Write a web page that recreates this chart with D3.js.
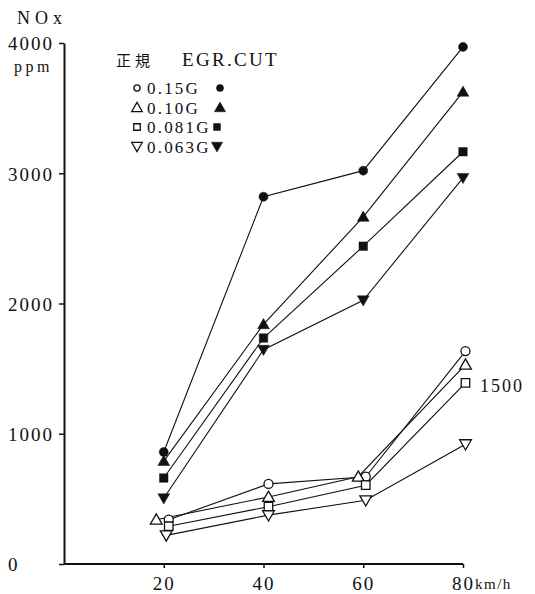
<!DOCTYPE html>
<html>
<head>
<meta charset="utf-8">
<script src="https://cdn.jsdelivr.net/npm/d3@7"></script>
<style>
  html, body { margin: 0; padding: 0; background: #fff; }
  svg { display: block; }
</style>
</head>
<body>
<svg id="chart" width="535" height="594"></svg>
<script>
// Vehicle speed (km/h)
const speeds = [20, 40, 60, 80];

// NOx (ppm) with EGR cut
const cut015  = [860, 2820, 3020, 3970];
const cut010  = [790, 1840, 2665, 3625];
const cut0081 = [660, 1735, 2440, 3165];
const cut0063 = [505, 1645, 2025, 2965];

// NOx (ppm) in normal operation, with the speeds at which the points sit
const std015  = [340, 615, 670, 1635];
const std010  = [340, 515, 670, 1530];
const std0081 = [290, 440, 605, 1390];
const std0063 = [220, 375, 490, 920];
const std015Speeds  = [21, 41, 60.5, 80.5];
const std010Speeds  = [18.5, 41, 59, 80.5];
const std0081Speeds = [21, 41, 60.5, 80.5];
const std0063Speeds = [20.5, 41, 60.5, 80.5];

// Axis ticks and legend
const yTicks = [0, 1000, 2000, 3000, 4000];
const xTicks = [20, 40, 60, 80];
const legendLabels = ["0.15G", "0.10G", "0.081G", "0.063G"];
const shapes = ["circle", "triangle", "square", "down"];

const SERIF = "'Liberation Serif', 'DejaVu Serif', serif";
const INK = "#111";

const svg = d3.select("#chart");
const x = d3.scaleLinear().domain([0, 80]).range([64, 463]);
const y = d3.scaleLinear().domain([0, 4000]).range([564, 43]);

function label(xp, yp, str, size, spacing, family) {
  return svg.append("text").attr("x", xp).attr("y", yp)
    .attr("fill", INK)
    .style("font-family", family || SERIF)
    .style("font-size", size + "px")
    .style("letter-spacing", spacing + "px")
    .text(str);
}

// Axes
const yAxis = svg.append("g")
  .attr("transform", "translate(64,0)")
  .call(d3.axisLeft(y).tickValues(yTicks).tickSize(5).tickSizeOuter(0).tickFormat(d3.format("d")));
yAxis.select(".domain").attr("stroke", INK).attr("stroke-width", 2);
yAxis.selectAll(".tick line").attr("stroke", INK).attr("stroke-width", 1.5);
yAxis.selectAll(".tick text")
  .attr("text-anchor", "start").attr("x", -56).attr("dy", "0.36em").attr("fill", INK)
  .style("font-family", SERIF).style("font-size", "19px").style("letter-spacing", "2px");

const xAxis = svg.append("g")
  .attr("transform", "translate(0,564)")
  .call(d3.axisBottom(x).tickValues(xTicks).tickSize(4).tickSizeOuter(0).tickPadding(9));
xAxis.select(".domain").attr("stroke", INK).attr("stroke-width", 2)
  .attr("d", `M${x(0)},0H${x(80)}`);
xAxis.selectAll(".tick line").attr("stroke", INK).attr("stroke-width", 1.5);
xAxis.selectAll(".tick text").attr("fill", INK)
  .style("font-family", SERIF).style("font-size", "19px").style("letter-spacing", "2px");

label(x(80) + 12, 589, "km/h", 15, 1.5);

// Axis title
label(17, 24, "NOx", 18, 5);
label(14, 72, "ppm", 16, 3.5);

// Marker shapes
function symbolPath(shape, size) {
  const type = shape === "circle" ? d3.symbolCircle
    : shape === "square" ? d3.symbolSquare : d3.symbolTriangle;
  return d3.symbol().type(type).size(size)();
}
function drawMarker(g, shape, cx, cy, filled, size) {
  const rot = shape === "down" ? 180 : 0;
  const dy = shape === "triangle" ? 1 : shape === "down" ? -1 : 0;
  g.append("path")
    .attr("d", symbolPath(shape, size))
    .attr("transform", `translate(${cx},${cy + dy}) rotate(${rot})`)
    .attr("fill", filled ? INK : "#fff")
    .attr("stroke", INK)
    .attr("stroke-width", filled ? 0.5 : 1.3);
}
const markerSize = { circle: 64, triangle: 60, square: 72, down: 60 };

const series = [
  { values: cut015,  xs: speeds, shape: "circle",   filled: true },
  { values: cut010,  xs: speeds, shape: "triangle", filled: true },
  { values: cut0081, xs: speeds, shape: "square",   filled: true },
  { values: cut0063, xs: speeds, shape: "down",     filled: true },
  { values: std015,  xs: std015Speeds,  shape: "circle",   filled: false },
  { values: std010,  xs: std010Speeds,  shape: "triangle", filled: false },
  { values: std0081, xs: std0081Speeds, shape: "square",   filled: false },
  { values: std0063, xs: std0063Speeds, shape: "down",     filled: false }
];

const line = d3.line().x(d => x(d[0])).y(d => y(d[1]));
const lines = svg.append("g");
series.forEach(s => {
  lines.append("path")
    .attr("d", line(s.xs.map((v, i) => [v, s.values[i]])))
    .attr("fill", "none").attr("stroke", INK).attr("stroke-width", 1.1);
});
const marks = svg.append("g");
series.forEach(s => {
  s.values.forEach((v, i) => drawMarker(marks, s.shape, x(s.xs[i]), y(v), s.filled, markerSize[s.shape]));
});

// Annotation beside the 80 km/h points
label(480, 392, "1500", 18, 2);

// Legend
label(116, 66, "正規", 15, 4, "'Noto Sans CJK JP', sans-serif");
label(182, 66, "EGR.CUT", 19, 2.3);

const legend = svg.append("g");
const openSize = { circle: 30, triangle: 48, square: 42, down: 48 };
const fillSize = { circle: 40, triangle: 55, square: 48, down: 55 };
legendLabels.forEach((lab, i) => {
  const cy = 88 + i * 19.5;
  drawMarker(legend, shapes[i], 137, cy, false, openSize[shapes[i]]);
  legend.append("text").attr("x", 147).attr("y", cy + 6).attr("fill", INK)
    .style("font-family", SERIF).style("font-size", "17px").style("letter-spacing", "2.2px")
    .text(lab);
  const fx = i < 2 ? 220 : 217;
  drawMarker(legend, shapes[i], fx, cy, true, fillSize[shapes[i]]);
});
</script>
</body>
</html>
